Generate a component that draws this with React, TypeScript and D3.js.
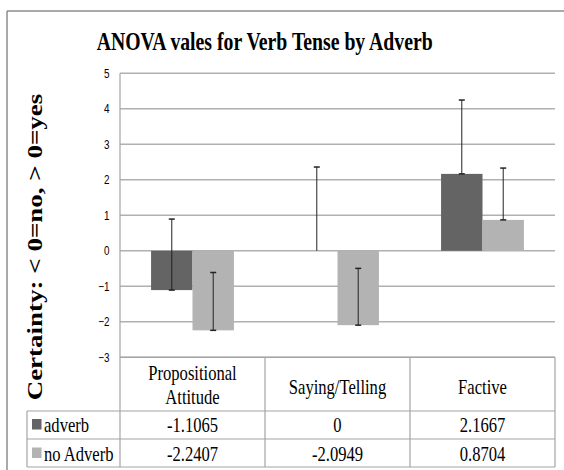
import React from "react";
import * as d3 from "d3";

// chart data
const categories = ["Propositional Attitude", "Saying/Telling", "Factive"];
const headerLines = [["Propositional", "Attitude"], ["Saying/Telling"], ["Factive"]];
const seriesNames = ["adverb", "no Adverb"];
const adverb = [-1.1065, 0, 2.1667];
const noAdverb = [-2.2407, -2.0949, 0.8704];
const adverbTableLabels = ["-1.1065", "0", "2.1667"];
const noAdverbTableLabels = ["-2.2407", "-2.0949", "0.8704"];
// error bars only go up (plus)
const adverbPlusErr = [2.0, 2.36, 2.08];
const noAdverbPlusErr = [1.63, 1.6, 1.46];
const yTicks = [5, 4, 3, 2, 1, 0, -1, -2, -3];

const colors = ["#646464", "#b3b3b3"];
const SX = 0.79; // the picture is squeezed sideways
const serif = "'Liberation Serif', 'Times New Roman', serif";
const sans = "'Liberation Sans', Arial, sans-serif";

function Txt({ x, y, children, anchor = "middle", size, weight = "normal", family = serif, rotate = 0 }: any) {
  const t = `translate(${x},${y}) scale(${SX},1)` + (rotate ? ` rotate(${rotate})` : "");
  return (
    <text transform={t} textAnchor={anchor} fontSize={size} fontWeight={weight} fontFamily={family} fill="#000">
      {children}
    </text>
  );
}

export default function App() {
  const width = 564;
  const height = 470;
  const plot = { left: 120, right: 555, top: 73.3, bottom: 357.3 };
  const tableRows = [357.3, 411, 439, 467];
  const legendLeft = 27;

  const x = d3.scaleBand<string>().domain(categories).range([plot.left, plot.right]).padding(0);
  const xInner = d3.scaleBand<string>().domain(seriesNames).range([0, x.bandwidth()]).paddingInner(0).paddingOuter(0.75);
  const y = d3.scaleLinear().domain([-3, 5]).range([plot.bottom, plot.top]);

  const series = [
    { name: seriesNames[0], values: adverb, err: adverbPlusErr, labels: adverbTableLabels, color: colors[0] },
    { name: seriesNames[1], values: noAdverb, err: noAdverbPlusErr, labels: noAdverbTableLabels, color: colors[1] },
  ];

  const gridColor = "#b0b0b0";
  const tableColor = "#a4a4a4";
  const colEdges = [...categories.map((c) => x(c) as number), plot.right];

  return (
    <svg width={width} height={height} style={{ position: "absolute", left: 0, top: 0, background: "#fff" }}>
      {/* outer frame (cropped at right/bottom) */}
      <line x1={7} y1={11} x2={width} y2={11} stroke="#8c8c8c" strokeWidth={1.5} />
      <line x1={7} y1={11} x2={7} y2={height} stroke="#8c8c8c" strokeWidth={1.5} />

      <Txt x={264.7} y={50} size={25} weight="bold">ANOVA vales for Verb Tense by Adverb</Txt>

      {/* gridlines + tick labels */}
      {yTicks.map((t) => (
        <g key={t}>
          <line x1={plot.left} x2={plot.right} y1={y(t)} y2={y(t)} stroke={gridColor} strokeWidth={1.5} />
          <Txt x={109.5} y={y(t) + 4.5} size={12.5} anchor="end" family={sans}>{d3.format("d")(t)}</Txt>
        </g>
      ))}

      <Txt x={41.5} y={247} size={27} weight="bold" rotate={-90}>Certainty: &lt; 0=no, &gt; 0=yes</Txt>

      {/* bars */}
      {series.map((s) =>
        categories.map((c, i) => {
          const bx = (x(c) as number) + (xInner(s.name) as number);
          const v = s.values[i];
          return (
            <rect key={s.name + c} x={bx} width={xInner.bandwidth()} y={Math.min(y(v), y(0))}
              height={Math.abs(y(v) - y(0))} fill={s.color} />
          );
        })
      )}

      {/* error bars */}
      {series.map((s) =>
        categories.map((c, i) => {
          const cx = (x(c) as number) + (xInner(s.name) as number) + xInner.bandwidth() / 2;
          const y0 = y(s.values[i]);
          const y1 = y(s.values[i] + s.err[i]);
          return (
            <g key={"e" + s.name + c} stroke="#222" strokeWidth={1}>
              <line x1={cx} x2={cx} y1={y0} y2={y1} />
              <line x1={cx - 3} x2={cx + 3} y1={y1} y2={y1} strokeWidth={1.5} />
              {s.values[i] !== 0 && <line x1={cx - 3} x2={cx + 3} y1={y0} y2={y0} strokeWidth={1.5} />}
            </g>
          );
        })
      )}

      {/* data table */}
      <line x1={plot.left} x2={plot.left} y1={plot.top} y2={tableRows[3]} stroke={tableColor} strokeWidth={1.2} />
      <line x1={plot.left} x2={plot.right} y1={tableRows[0]} y2={tableRows[0]} stroke={tableColor} strokeWidth={1.2} />
      {tableRows.slice(1).map((ry) => (
        <line key={ry} x1={legendLeft} x2={plot.right} y1={ry} y2={ry} stroke={tableColor} strokeWidth={1.2} />
      ))}
      <line x1={legendLeft} x2={legendLeft} y1={tableRows[1]} y2={tableRows[3]} stroke={tableColor} strokeWidth={1.2} />
      {colEdges.slice(1).map((ex) => (
        <line key={ex} x1={ex} x2={ex} y1={tableRows[0]} y2={tableRows[3]} stroke={tableColor} strokeWidth={1.2} />
      ))}

      {categories.map((c, i) => {
        const cx = (x(c) as number) + x.bandwidth() / 2;
        const lines = headerLines[i];
        const baselines = lines.length === 2 ? [379.5, 403.5] : [393.5];
        return lines.map((l, j) => (
          <Txt key={c + j} x={cx} y={baselines[j]} size={21}>{l}</Txt>
        ));
      })}

      {series.map((s, r) => {
        const base = r === 0 ? 432 : 460.5;
        return (
          <g key={"row" + s.name}>
            <rect x={32} y={base - 13} width={9.5} height={10.5} fill={s.color} />
            <Txt x={44} y={base} size={21} anchor="start">{s.name}</Txt>
            {categories.map((c, i) => (
              <Txt key={c} x={(x(c) as number) + x.bandwidth() / 2} y={base} size={21}>{s.labels[i]}</Txt>
            ))}
          </g>
        );
      })}
    </svg>
  );
}
